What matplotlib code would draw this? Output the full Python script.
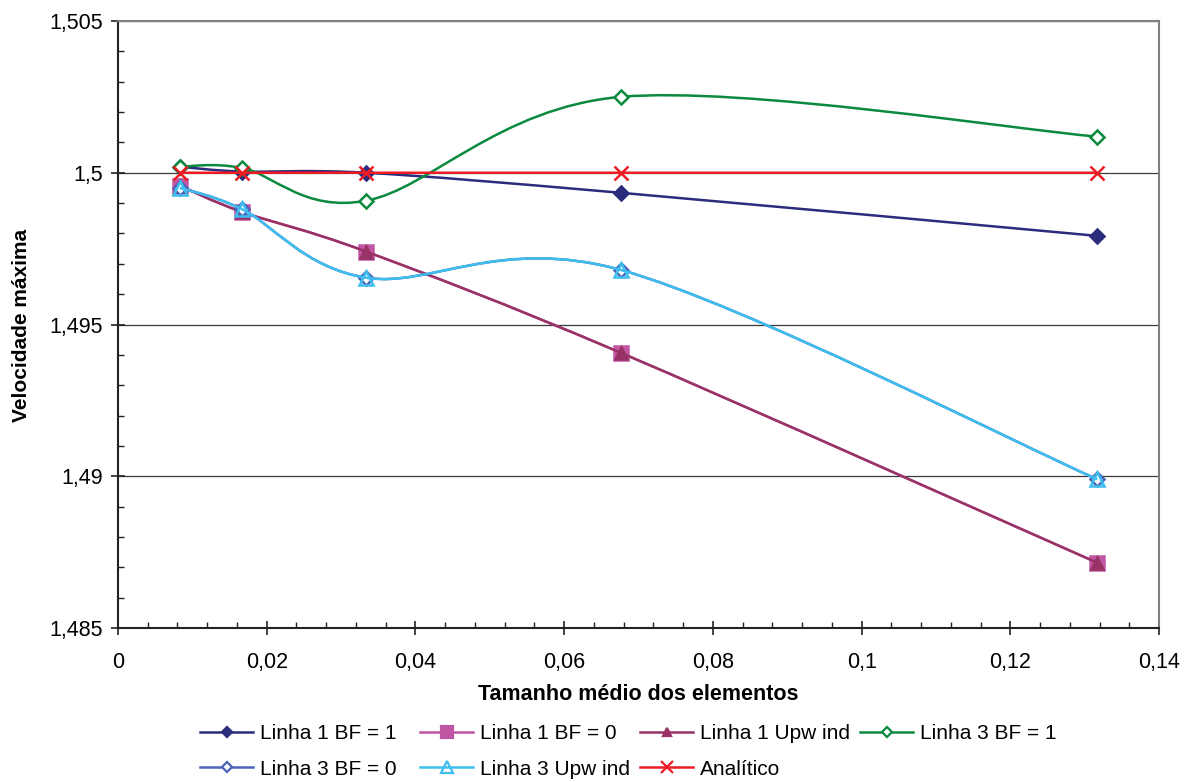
import numpy as np
import matplotlib.pyplot as plt
from matplotlib.path import Path
from matplotlib.patches import PathPatch
from matplotlib.lines import Line2D
from matplotlib.ticker import MultipleLocator, FuncFormatter

plt.rcParams['font.family'] = ['Liberation Sans', 'DejaVu Sans']

# Mean element size
tamanho = [0.00833, 0.01667, 0.0334, 0.0676, 0.1317]

# Maximum velocity for each case
linha1_bf1 = [1.50020, 1.50004, 1.50000, 1.49934, 1.49792]
linha1_bf0 = [1.49957, 1.49871, 1.49740, 1.49407, 1.48715]
linha1_upw = [1.49957, 1.49871, 1.49740, 1.49407, 1.48715]
linha3_bf1 = [1.50020, 1.50016, 1.49908, 1.50250, 1.50119]
linha3_bf0 = [1.49950, 1.49880, 1.49654, 1.49680, 1.48990]
linha3_upw = [1.49950, 1.49880, 1.49654, 1.49680, 1.48990]
analitico = [1.5, 1.5, 1.5, 1.5, 1.5]

labels = ['Linha 1 BF = 1', 'Linha 1 BF = 0', 'Linha 1 Upw ind', 'Linha 3 BF = 1',
          'Linha 3 BF = 0', 'Linha 3 Upw ind', 'Analítico']


def smooth_path(x, y):
    """Excel-like smoothed line: Catmull-Rom segments as cubic Bezier curves."""
    p = np.column_stack([x, y])
    pp = np.vstack([p[0], p, p[-1]])
    verts = [p[0]]
    codes = [Path.MOVETO]
    for i in range(1, len(pp) - 2):
        c1 = pp[i] + (pp[i + 1] - pp[i - 1]) / 6
        c2 = pp[i + 1] - (pp[i + 2] - pp[i]) / 6
        verts += [c1, c2, pp[i + 1]]
        codes += [Path.CURVE4] * 3
    return Path(verts, codes)


fig = plt.figure(figsize=(11.91, 7.82), dpi=100)
ax = fig.add_axes([118 / 1191, 1 - 628 / 782, (1159 - 118) / 1191, (628 - 21) / 782])

# (values, line colour, marker, marker face, marker edge, marker size)
series = [
    (linha1_bf1, '#2B2C7C', 'D', '#2B2C7C', '#2B2C7C', 7),
    (linha1_bf0, '#C055A3', 's', '#C055A3', '#C055A3', 10),
    (linha1_upw, '#993366', '^', '#993366', '#993366', 8),
    (linha3_bf1, '#0B8A3F', 'D', 'white', '#0B8A3F', 7),
    (linha3_bf0, '#4A64B8', 'D', 'white', '#4A64B8', 7),
    (linha3_upw, '#3DBEEE', '^', 'none', '#3DBEEE', 10),
    (analitico, '#ED1C24', 'x', '#ED1C24', '#ED1C24', 10),
]

handles = []
for k, (vals, col, mk, mfc, mec, ms) in enumerate(series):
    ax.add_patch(PathPatch(smooth_path(tamanho, vals), facecolor='none',
                           edgecolor=col, lw=1.8, zorder=3 + k))
    ax.plot(tamanho, vals, linestyle='none', marker=mk, ms=ms, mfc=mfc, mec=mec,
            mew=1.8, zorder=3.5 + k)
    handles.append(Line2D([], [], color=col, lw=1.8, marker=mk, ms=ms * 0.8,
                          mfc=mfc, mec=mec, mew=1.6))

ax.set_xlim(0, 0.14)
ax.set_ylim(1.485, 1.505)
ax.xaxis.set_major_locator(MultipleLocator(0.02))
ax.xaxis.set_minor_locator(MultipleLocator(0.004))
ax.yaxis.set_major_locator(MultipleLocator(0.005))
ax.yaxis.set_minor_locator(MultipleLocator(0.001))

fmt = FuncFormatter(lambda v, pos: ('%.3f' % v).rstrip('0').rstrip('.').replace('.', ','))
ax.xaxis.set_major_formatter(fmt)
ax.yaxis.set_major_formatter(fmt)

ax.tick_params(which='major', direction='inout', length=10, width=1.2, labelsize=15.5,
               colors='#222222', labelcolor='black')
ax.tick_params(which='minor', direction='in', length=4, width=1.0, colors='#222222')
ax.tick_params(axis='x', which='major', pad=12)
ax.tick_params(axis='y', which='major', pad=6)

ax.grid(axis='y', which='major', color='#3a3a3a', lw=0.9, zorder=1)
ax.set_axisbelow(True)

for s in ['left', 'bottom']:
    ax.spines[s].set_color('#222222')
    ax.spines[s].set_linewidth(1.5)
for s in ['top', 'right']:
    ax.spines[s].set_color('#808080')
    ax.spines[s].set_linewidth(1.5)

fig.text(22 / 1191, 1 - 325 / 782, 'Velocidade máxima', rotation=90, fontsize=15,
         fontweight='bold', ha='center', va='center')
fig.text(638 / 1191, 1 - 695 / 782, 'Tamanho médio dos elementos', fontsize=15.5,
         fontweight='bold', ha='center', va='center')

# legend: equal-width columns like the original, one small legend per column
columns = [[0, 4], [1, 5], [2, 6], [3]]
col_left = [200, 420, 640, 860]
for idx, xl in zip(columns, col_left):
    leg = fig.legend([handles[i] for i in idx], [labels[i] for i in idx], ncol=1,
                     loc='upper left', bbox_to_anchor=(xl / 1191, 1 - 724 / 782),
                     frameon=False, fontsize=15, handlelength=2.55, handletextpad=0.35,
                     labelspacing=0.8, borderpad=0, borderaxespad=0)

fig.savefig('out.png', dpi=100)
